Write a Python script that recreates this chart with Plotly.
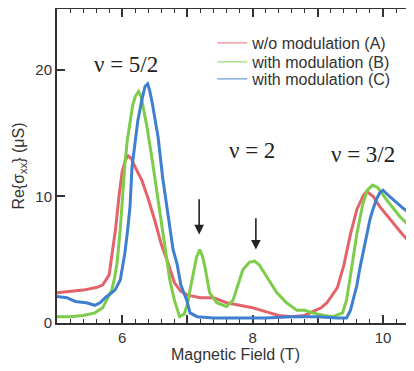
import plotly.graph_objects as go

# ---- data ----
field_A = [5.0, 5.2, 5.4, 5.6, 5.7, 5.8, 5.85, 5.9, 5.95, 6.0, 6.05, 6.09, 6.14, 6.2, 6.3, 6.4, 6.5,
           6.6, 6.7, 6.8, 6.9, 7.0, 7.2, 7.4, 7.6, 7.8, 8.0, 8.2, 8.4, 8.6, 8.8, 8.92, 9.05, 9.14,
           9.3, 9.4, 9.5, 9.6, 9.7, 9.75, 9.85, 9.95, 10.15, 10.3, 10.48]
sigma_A = [2.4, 2.5, 2.6, 2.8, 3.0, 3.8, 5.5, 7.5, 10.0, 12.0, 12.9, 13.2, 13.0, 12.3, 11.3, 9.8, 8.1,
           6.2, 4.8, 3.2, 2.5, 2.2, 2.0, 2.0, 1.6, 1.4, 1.2, 0.9, 0.6, 0.5, 0.6, 0.9, 1.2, 1.6,
           2.8, 4.6, 7.0, 9.0, 10.1, 10.4, 10.0, 9.2, 7.9, 7.0, 6.0]

field_B = [5.0, 5.2, 5.4, 5.58, 5.7, 5.74, 5.8, 5.84, 5.88, 5.92, 5.97, 6.01, 6.04, 6.08, 6.12, 6.16,
           6.2, 6.25, 6.29, 6.33, 6.38, 6.46, 6.53, 6.58, 6.63, 6.68, 6.73, 6.8, 6.88, 6.95, 7.0,
           7.04, 7.1, 7.14, 7.19, 7.23, 7.27, 7.34, 7.45, 7.6, 7.7, 7.76, 7.85, 7.95, 8.03, 8.1,
           8.22, 8.37, 8.52, 8.68, 8.8, 8.92, 9.1, 9.23, 9.38, 9.44, 9.49, 9.55, 9.6, 9.69, 9.76,
           9.84, 9.92, 10.06, 10.26, 10.48]
sigma_B = [0.5, 0.5, 0.6, 0.8, 1.2, 1.6, 2.1, 2.6, 3.5, 4.7, 7.4, 10.3, 12.5, 14.5, 16.0, 17.2,
           17.9, 18.3, 17.9, 16.8, 15.5, 12.9, 10.5, 8.6, 7.1, 5.2, 3.4, 1.8, 0.5, 0.7, 1.5,
           2.6, 4.0, 5.2, 5.8, 5.3, 4.4, 2.4, 1.6, 1.3, 1.8, 2.8, 4.2, 4.8, 4.9, 4.6,
           3.6, 2.4, 1.6, 1.0, 1.0, 0.8, 0.6, 0.5, 0.8, 1.8, 3.4, 5.3, 7.1, 9.4, 10.5,
           10.9, 10.7, 9.7, 8.4, 7.3]

field_C = [5.0, 5.15, 5.28, 5.45, 5.58, 5.66, 5.74, 5.82, 5.89, 5.97, 6.04, 6.08, 6.12, 6.15, 6.2,
           6.24, 6.3, 6.35, 6.39, 6.42, 6.46, 6.51, 6.55, 6.62, 6.66, 6.73, 6.78, 6.84, 6.9, 6.99,
           7.04, 7.15, 7.4, 7.8, 8.2, 8.6, 9.0, 9.3, 9.44, 9.5, 9.54, 9.6, 9.64, 9.7, 9.75, 9.8,
           9.84, 9.9, 9.95, 10.0, 10.1, 10.21, 10.3, 10.48]
sigma_C = [2.1, 2.0, 1.7, 1.6, 1.4, 1.6, 2.0, 2.3, 2.6, 3.4, 5.5, 7.2, 9.2, 12.3, 14.4,
           16.0, 17.6, 18.7, 18.9, 18.4, 17.4, 16.0, 14.7, 11.5, 10.0, 7.4, 5.8, 4.7, 3.0, 1.8,
           0.8, 0.5, 0.4, 0.4, 0.4, 0.5, 0.5, 0.4, 0.4, 1.0, 1.8, 3.0, 4.2, 5.8, 7.1, 8.2,
           8.9, 9.8, 10.3, 10.5, 10.0, 9.5, 9.1, 8.4]

names = ["w/o modulation (A)", "with modulation (B)", "with modulation (C)"]
colors = ["#e4636b", "#7dcc4a", "#3f7fd0"]

x_tickvals = [5, 6, 7, 8, 9, 10]
x_ticktext = ["", "6", "", "8", "", "10"]
y_tickvals = [0, 10, 20]

filling_labels = ["ν = 5/2", "ν = 2", "ν = 3/2"]
label_x = [6.06, 7.99, 9.70]
label_y = [20.4, 13.6, 13.3]

arrow_x = [7.18, 8.05]
arrow_tail = [9.9, 8.4]
arrow_tip = [7.0, 5.8]

legend_ids = ["legend", "legend2", "legend3"]
legend_rows = [0.892, 0.831, 0.777]

fig = go.Figure()
for xs, ys, nm, c in zip([field_A, field_B, field_C], [sigma_A, sigma_B, sigma_C], names, colors):
    fig.add_trace(go.Scatter(x=xs, y=ys, mode="lines", name=nm, showlegend=False,
                             line=dict(color=c, width=3)))
# thin legend keys
for nm, c, lg in zip(names, colors, legend_ids):
    fig.add_trace(go.Scatter(x=[None], y=[None], mode="lines", name=nm, legend=lg,
                             line=dict(color=c, width=1.2), opacity=0.75))

for t, lx, ly in zip(filling_labels, label_x, label_y):
    fig.add_annotation(x=lx, y=ly, text=t, showarrow=False,
                       font=dict(family="Liberation Serif", size=23, color="#222"))

for ax_, tl, tp in zip(arrow_x, arrow_tail, arrow_tip):
    fig.add_annotation(x=ax_, y=tp, ax=ax_, ay=tl, xref="x", yref="y", axref="x", ayref="y",
                       text="", showarrow=True, arrowhead=2, arrowsize=1.2, arrowwidth=1.6,
                       arrowcolor="#222")

axis_common = dict(showline=True, linecolor="#333", linewidth=2, mirror="ticks",
                   ticks="inside", tickcolor="#333", tickwidth=1.5, ticklen=8,
                   showgrid=False, zeroline=False, layer="below traces",
                   tickfont=dict(family="Arial", size=15, color="#333"))

fig.update_xaxes(range=[5.0, 10.475], tickvals=x_tickvals, ticktext=x_ticktext,
                 minor=dict(dtick=0.2, ticks="inside", ticklen=4, tickcolor="#333", tickwidth=1.2,
                            showgrid=False),
                 title=dict(text="Magnetic Field (T)", font=dict(family="Arial", size=16, color="#333"),
                            standoff=2),
                 **axis_common)
fig.update_yaxes(range=[0, 24.82], tickvals=y_tickvals,
                 title=dict(text="Re{σ<sub>xx</sub>} (μS)", font=dict(family="Arial", size=16, color="#333"),
                            standoff=7),
                 **axis_common)

legend_style = dict(x=0.435, xanchor="left", yanchor="middle", bgcolor="rgba(0,0,0,0)",
                    itemwidth=30, font=dict(family="Arial", size=16, color="#333"))
layout_legends = {lg: dict(y=ry, **legend_style) for lg, ry in zip(legend_ids, legend_rows)}

# the page body adds an 8px margin, so the figure is sized/offset to compensate
fig.update_layout(
    width=406, height=363,
    margin=dict(l=49, r=0, t=1, b=48, autoexpand=False),
    plot_bgcolor="white", paper_bgcolor="white",
    **layout_legends,
)

fig.write_html("out.html")
